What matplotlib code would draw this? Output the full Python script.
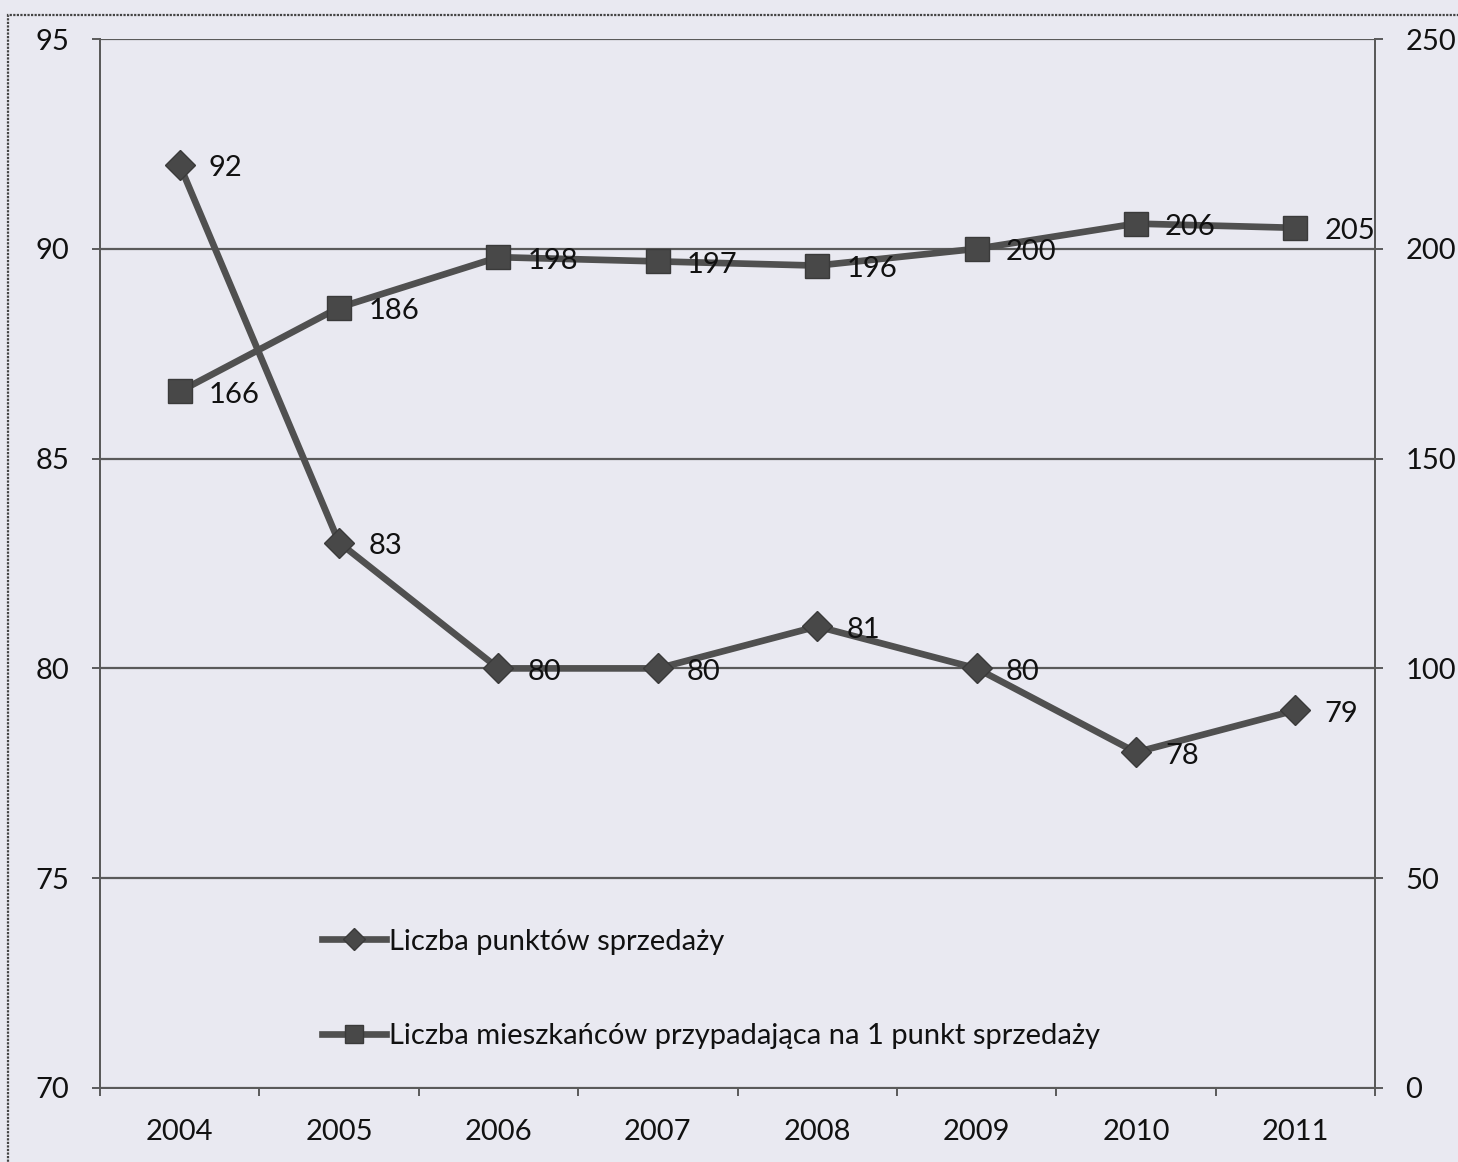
#!/usr/bin/env python
import matplotlib.pyplot as plt
from matplotlib.patches import Rectangle

############# DATA ############
years        = ['2004', '2005', '2006', '2007', '2008', '2009', '2010', '2011']
punkty       = [92, 83, 80, 80, 81, 80, 78, 79]
mieszkancy   = [166, 186, 198, 197, 196, 200, 206, 205]
label_punkty = 'Liczba punktów sprzedaży'
label_miesz  = 'Liczba mieszkańców przypadająca na 1 punkt sprzedaży'
left_ticks   = [70, 75, 80, 85, 90, 95]
right_ticks  = [0, 50, 100, 150, 200, 250]

############# PLOT SETTINGS ############
bg_color   = '#e9e9f1'
line_color = '#505050'
mark_color = '#484848'
text_color = '#111111'
axis_color = '#5a5a5a'
fontsize   = 21
plt.rcParams['font.family'] = ['Lato', 'DejaVu Sans']

fig = plt.figure(figsize=(14.58, 11.62), dpi=100)
fig.patch.set_facecolor(bg_color)
fig.add_artist(Rectangle((8 / 1458, -0.01), 1.1, 1 - 15 / 1162 + 0.01, transform=fig.transFigure,
                         fill=False, edgecolor='#444444', linewidth=1.6, linestyle=(0, (1, 0.6))))

ax = fig.add_axes([100 / 1458, 1 - 1088 / 1162, 1275 / 1458, 1049 / 1162])
ax.set_facecolor('none')
ax2 = ax.twinx()

x = list(range(len(years)))

l1, = ax.plot(x, punkty, color=line_color, linewidth=4.8, marker='D', markersize=15,
              markerfacecolor=mark_color, markeredgecolor='#3a3a3a', label=label_punkty, zorder=3)
l2, = ax2.plot(x, mieszkancy, color=line_color, linewidth=4.8, marker='s', markersize=17,
               markerfacecolor=mark_color, markeredgecolor='#3a3a3a', label=label_miesz, zorder=3)

for xi, v in zip(x, punkty):
    ax.annotate(str(v), (xi, v), xytext=(21, -2.5), textcoords='offset points',
                ha='left', va='center', fontsize=fontsize, color=text_color)
for xi, v in zip(x, mieszkancy):
    ax2.annotate(str(v), (xi, v), xytext=(21, -2.5), textcoords='offset points',
                 ha='left', va='center', fontsize=fontsize, color=text_color)

ax.set_xlim(-0.5, len(years) - 0.5)
ax.set_ylim(70, 95)
ax2.set_ylim(0, 250)
ax.set_yticks(left_ticks)
ax2.set_yticks(right_ticks)
ax.set_xticks(x)
ax.set_xticklabels(years)
ax.set_xticks([i - 0.5 for i in range(len(years) + 1)], minor=True)

ax.grid(axis='y', color=axis_color, linewidth=1.6, zorder=1)
ax.set_axisbelow(True)

for a in (ax, ax2):
    for s in a.spines.values():
        s.set_color(axis_color)
        s.set_linewidth(1.4)
    a.spines['top'].set_visible(False)

ax.tick_params(axis='x', which='major', length=0, pad=22, labelsize=fontsize, colors=text_color)
ax.tick_params(axis='x', which='minor', length=6, width=1.4, color=axis_color, direction='out')
ax.tick_params(axis='y', length=6, width=1.4, color=axis_color, pad=16, labelsize=fontsize,
               labelcolor=text_color)
ax2.tick_params(axis='y', length=6, width=1.4, color=axis_color, pad=16, labelsize=fontsize,
                labelcolor=text_color)

leg = ax2.legend(handles=[l1, l2], loc='upper left', bbox_to_anchor=(0.165, 0.163),
                 frameon=False, fontsize=fontsize, handlelength=2.2, handletextpad=0.1,
                 labelspacing=2.35, markerscale=0.75, borderaxespad=0)
for t in leg.get_texts():
    t.set_color(text_color)

fig.savefig('out.png', dpi=100, facecolor=bg_color)
